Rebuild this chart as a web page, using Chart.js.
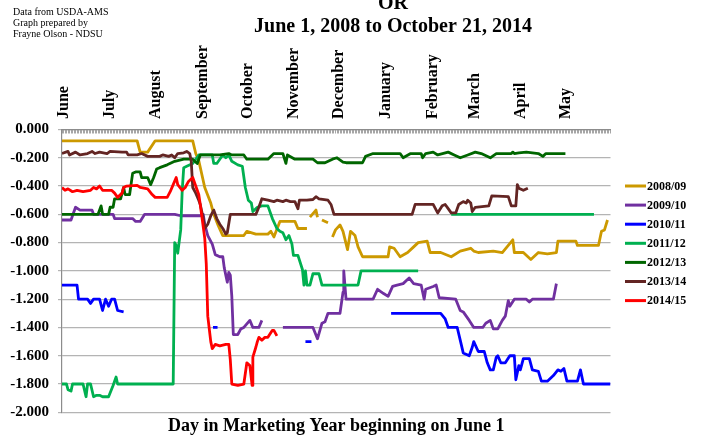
<!DOCTYPE html>
<html>
<head>
<meta charset="utf-8">
<title>Basis by marketing year</title>
<script src="https://cdn.jsdelivr.net/npm/chart.js@4.4.1/dist/chart.umd.min.js"></script>
<style>
  html, body { margin: 0; padding: 0; background: #fff; }
  #wrap { position: relative; width: 701px; height: 439px; }
</style>
</head>
<body>
<div id="wrap"><canvas id="basis-chart"></canvas></div>
<script>
// season labels, in legend order
var seasons = ['2008/09', '2009/10', '2010/11', '2011/12', '2012/13', '2013/14', '2014/15'];

// month names shown on the top axis, and the day of the marketing year each starts on
var monthNames = ['June', 'July', 'August', 'September', 'October', 'November', 'December',
                  'January', 'February', 'March', 'April', 'May'];
var monthStartDays = [1, 31, 62, 93, 123, 154, 184, 215, 246, 274, 305, 335];

// [day, basis] pairs, null = no quote (gap)
var s0809 = [[1,-0.08],[51,-0.08],[53,-0.16],[58,-0.16],[63,-0.08],[88,-0.08],[90,-0.17],[92,-0.22],[96,-0.41],[100,-0.52],[102,-0.60],[105,-0.68],[108,-0.75],[122,-0.75],[124,-0.72],[130,-0.74],[138,-0.74],[140,-0.72],[142,-0.76],[146,-0.65],[156,-0.65],[158,-0.70],[164,-0.70],[165,null],[166,-0.62],[170,-0.57],[171,-0.62],[172,null],[174,-0.64],[178,-0.66],[179,null],[181,-0.76],[183,-0.71],[186,-0.675],[188,-0.72],[191,-0.85],[193,-0.72],[196,-0.75],[198,-0.83],[201,-0.90],[218,-0.90],[219,-0.83],[222,-0.84],[226,-0.90],[231,-0.87],[235,-0.83],[238,-0.80],[244,-0.79],[246,-0.87],[253,-0.87],[260,-0.90],[266,-0.86],[273,-0.84],[275,-0.86],[278,-0.87],[288,-0.86],[294,-0.87],[301,-0.78],[302,-0.87],[308,-0.87],[313,-0.92],[318,-0.87],[324,-0.88],[330,-0.87],[331,-0.79],[343,-0.79],[344,-0.82],[358,-0.82],[360,-0.72],[362,-0.71],[364,-0.64]];
var s0910 = [[1,-0.64],[7,-0.64],[10,-0.55],[13,-0.57],[21,-0.57],[22,-0.60],[35,-0.60],[36,-0.63],[48,-0.63],[50,-0.65],[53,-0.65],[56,-0.60],[76,-0.60],[80,-0.61],[93,-0.61],[95,-0.60],[96,-0.67],[98,-0.75],[101,-0.81],[103,-0.885],[106,-0.90],[108,-0.90],[109,-0.98],[110,-1.03],[111,-1.08],[112,-1.01],[113,-1.03],[114,-1.18],[115,-1.45],[118,-1.45],[120,-1.41],[122,-1.40],[126,-1.35],[128,-1.40],[132,-1.40],[134,-1.35],[140,null],[148,-1.40],[168,-1.40],[171,-1.48],[174,-1.37],[176,-1.36],[178,-1.30],[186,-1.30],[188,-1.15],[188.5,-1.00],[190,-1.20],[208,-1.20],[211,-1.13],[215,-1.16],[218,-1.18],[221,-1.11],[224,-1.10],[228,-1.09],[232,-1.05],[235,-1.09],[240,-1.10],[242,-1.20],[243,-1.13],[248,-1.11],[250,-1.10],[252,-1.19],[263,-1.20],[266,-1.28],[268,-1.29],[272,-1.35],[275,-1.40],[281,-1.40],[283,-1.37],[286,-1.35],[288,-1.41],[291,-1.41],[294,-1.35],[296,-1.32],[298,-1.21],[299,-1.25],[302,-1.20],[310,-1.20],[312,-1.22],[314,-1.20],[328,-1.20],[330,-1.09]];
var s1011 = [[1,-1.10],[11,-1.10],[12,-1.20],[18,-1.20],[20,-1.23],[22,-1.20],[26,-1.20],[28,-1.28],[30,-1.20],[32,-1.25],[34,-1.20],[36,-1.20],[38,-1.28],[42,-1.29],[50,null],[101.5,-1.40],[104.5,-1.40],[110,null],[163,-1.50],[167,-1.50],[190,null],[220,-1.30],[253,-1.30],[256,-1.34],[258,-1.40],[264,-1.40],[266,-1.49],[268,-1.58],[272,-1.60],[274,-1.54],[275,-1.50],[278,-1.57],[282,-1.57],[284,-1.65],[286,-1.70],[288,-1.70],[290,-1.61],[291,-1.60],[293,-1.65],[296,-1.65],[299,-1.60],[302,-1.60],[303,-1.77],[305,-1.67],[306,-1.70],[308,-1.62],[312,-1.62],[314,-1.70],[318,-1.71],[320,-1.78],[324,-1.78],[328,-1.74],[331,-1.70],[333,-1.71],[335,-1.69],[337,-1.78],[344,-1.78],[346,-1.70],[348,-1.80],[366,-1.80]];
var s1112 = [[1,-1.80],[4,-1.80],[5,-1.84],[7,-1.85],[8,-1.80],[15,-1.80],[17,-1.89],[18,-1.80],[20,-1.80],[22,-1.89],[24,-1.88],[26,-1.88],[28,-1.89],[32,-1.89],[35,-1.81],[37,-1.75],[38,-1.80],[75,-1.80],[76,-0.80],[77,-0.82],[78,-0.875],[80,-0.71],[81,-0.43],[82,-0.27],[84,-0.26],[88,-0.24],[92,-0.18],[101,-0.18],[102,-0.24],[104,-0.24],[108,-0.18],[110,-0.20],[112,-0.18],[114,-0.225],[118,-0.25],[121,-0.26],[123,-0.41],[125,-0.50],[127,-0.52],[128,-0.58],[131,-0.55],[134,-0.54],[138,-0.54],[141,-0.63],[144,-0.70],[146,-0.72],[148,-0.73],[150,-0.78],[152,-0.75],[154,-0.81],[155,-0.89],[158,-0.89],[161,-0.99],[162,-1.10],[163,-1.00],[164,-1.10],[166,-1.10],[168,-1.02],[172,-1.02],[174,-1.10],[198,-1.10],[200,-1.00],[238,-1.00],[250,null],[260,-0.60],[355,-0.60]];
var s1213 = [[1,-0.60],[25,-0.60],[27,-0.54],[28,-0.60],[32,-0.60],[33,-0.55],[35,-0.55],[36,-0.49],[40,-0.49],[42,-0.41],[43,-0.46],[46,-0.46],[48,-0.31],[50,-0.30],[53,-0.30],[54,-0.34],[58,-0.34],[60,-0.39],[62,-0.34],[64,-0.28],[66,-0.27],[71,-0.25],[76,-0.225],[82,-0.21],[88,-0.21],[91,-0.24],[93,-0.18],[106,-0.18],[112,-0.17],[114,-0.18],[122,-0.18],[124,-0.21],[138,-0.21],[142,-0.17],[148,-0.17],[150,-0.24],[151,-0.18],[156,-0.21],[168,-0.21],[171,-0.235],[176,-0.235],[181,-0.21],[184,-0.20],[188,-0.23],[190,-0.235],[201,-0.235],[203,-0.19],[208,-0.17],[226,-0.17],[228,-0.20],[233,-0.17],[240,-0.17],[241,-0.20],[243,-0.17],[248,-0.16],[251,-0.18],[258,-0.16],[262,-0.18],[266,-0.20],[271,-0.18],[276,-0.16],[280,-0.17],[286,-0.20],[290,-0.17],[300,-0.17],[301,-0.16],[302,-0.17],[305,-0.165],[310,-0.16],[314,-0.165],[318,-0.17],[321,-0.19],[323,-0.17],[336,-0.17]];
var s1314 = [[1,-0.17],[5,-0.155],[6,-0.18],[10,-0.16],[13,-0.18],[18,-0.17],[21,-0.155],[23,-0.17],[26,-0.16],[31,-0.17],[33,-0.155],[41,-0.16],[44,-0.16],[45,-0.18],[51,-0.18],[54,-0.17],[58,-0.19],[66,-0.19],[68,-0.18],[72,-0.19],[74,-0.18],[76,-0.20],[78,-0.17],[82,-0.165],[84,-0.155],[86,-0.17],[87,-0.225],[88,-0.41],[90,-0.45],[92,-0.50],[93,-0.53],[95,-0.63],[96,-0.70],[98,-0.67],[100,-0.61],[102,-0.57],[104,-0.63],[106,-0.67],[108,-0.70],[110,-0.74],[111,-0.73],[113,-0.60],[130,-0.60],[132,-0.55],[134,-0.49],[138,-0.50],[142,-0.51],[144,-0.50],[148,-0.51],[150,-0.50],[153,-0.51],[156,-0.51],[158,-0.56],[159,-0.50],[164,-0.50],[168,-0.495],[170,-0.475],[172,-0.49],[178,-0.50],[180,-0.53],[182,-0.60],[234,-0.60],[236,-0.53],[248,-0.53],[251,-0.59],[254,-0.54],[256,-0.53],[258,-0.56],[260,-0.59],[263,-0.59],[265,-0.53],[268,-0.51],[270,-0.52],[271,-0.50],[273,-0.52],[274,-0.58],[276,-0.55],[285,-0.54],[287,-0.47],[298,-0.475],[300,-0.54],[303,-0.54],[304,-0.39],[305,-0.415],[308,-0.43],[311,-0.415]];
var s1415 = [[1,-0.41],[3,-0.43],[5,-0.42],[8,-0.44],[11,-0.43],[15,-0.44],[20,-0.43],[22,-0.41],[24,-0.42],[26,-0.40],[28,-0.43],[34,-0.43],[36,-0.45],[38,-0.48],[41,-0.45],[42,-0.41],[44,-0.40],[51,-0.395],[53,-0.41],[58,-0.42],[61,-0.46],[63,-0.48],[71,-0.48],[73,-0.44],[75,-0.39],[77,-0.34],[78,-0.39],[81,-0.43],[83,-0.41],[85,-0.37],[88,-0.34],[90,-0.40],[92,-0.46],[93,-0.53],[94,-0.61],[96,-0.77],[97,-0.95],[98,-1.32],[100,-1.50],[101,-1.55],[103,-1.52],[106,-1.53],[110,-1.52],[112,-1.52],[113,-1.63],[114,-1.80],[118,-1.81],[122,-1.80],[124,-1.65],[126,-1.67],[127.5,-1.81],[128,-1.61],[130,-1.54],[131,-1.50],[132,-1.47],[134,-1.49],[136,-1.47],[138,-1.47],[141,-1.42],[142,-1.42],[144,-1.46]];

var seriesData = [s0809, s0910, s1011, s1112, s1213, s1314, s1415];
var lineColors = ['#CC9900', '#7030A0', '#0000FF', '#00B050', '#006600', '#632523', '#FF0000'];

var noteLines = ['Data from USDA-AMS', 'Graph prepared by', 'Frayne Olson - NDSU'];
var titleLines = ['OR', 'June 1, 2008 to October 21, 2014'];
var xTitle = 'Day in Marketing Year beginning on June 1';

var serif = "'Liberation Serif', 'Times New Roman', serif";

// one tick mark per day along the top axis
var dayTicks = [];
for (var d = 1; d <= 366; d++) dayTicks.push({ value: d });

var datasets = seriesData.map(function(rows, i) {
  return {
    label: seasons[i],
    data: rows.map(function(r) { return { x: r[0], y: r[1] }; }),
    borderColor: lineColors[i],
    backgroundColor: lineColors[i],
    borderWidth: 2.8,
    pointRadius: 0,
    tension: 0,
    spanGaps: false,
    borderJoinStyle: 'round',
    order: seriesData.length - i   // later seasons drawn on top
  };
});

// extra text: source note, title, x-axis title and the legend
var decor = {
  id: 'decor',
  afterDraw: function(chart) {
    var ctx = chart.ctx, area = chart.chartArea;
    ctx.save();
    ctx.fillStyle = '#000';
    ctx.textAlign = 'left';
    ctx.textBaseline = 'alphabetic';
    ctx.font = '10px ' + serif;
    noteLines.forEach(function(t, i) { ctx.fillText(t, 13, 15 + i * 10.8); });

    ctx.textAlign = 'center';
    ctx.font = 'bold 20px ' + serif;
    titleLines.forEach(function(t, i) { ctx.fillText(t, 393, 8.5 + i * 23); });

    ctx.font = 'bold 18px ' + serif;
    ctx.fillText(xTitle, (area.left + area.right) / 2, 431);

    ctx.textAlign = 'left';
    ctx.textBaseline = 'middle';
    ctx.font = 'bold 12px ' + serif;
    chart.data.datasets.forEach(function(ds, i) {
      var y = 186 + i * 19.1;
      ctx.strokeStyle = ds.borderColor;
      ctx.lineWidth = 3;
      ctx.beginPath();
      ctx.moveTo(625, y);
      ctx.lineTo(646, y);
      ctx.stroke();
      ctx.fillText(ds.label, 647, y + 0.5);
    });
    ctx.restore();
  }
};

new Chart(document.getElementById('basis-chart'), {
  type: 'line',
  data: { datasets: datasets },
  options: {
    responsive: true,
    maintainAspectRatio: false,
    animation: false,
    events: [],
    layout: { padding: { left: 0, right: 90.5, top: 0, bottom: 26.7 } },
    plugins: { legend: { display: false }, title: { display: false }, tooltip: { enabled: false } },
    scales: {
      x: {
        type: 'linear',
        position: 'top',
        min: 1,
        max: 366,
        afterBuildTicks: function(scale) { scale.ticks = dayTicks.slice(); },
        afterFit: function(scale) { scale.height = 129.5; },
        ticks: {
          autoSkip: false,
          minRotation: 90,
          maxRotation: 90,
          padding: 14.5,
          labelOffset: 21.5,
          color: '#000',
          font: { family: serif, size: 16, weight: 'bold' },
          callback: function(v) {
            var k = monthStartDays.indexOf(v);
            return k >= 0 ? monthNames[k] : '';
          }
        },
        grid: { drawOnChartArea: false, drawTicks: true, tickLength: -4, color: '#a6a6a6', lineWidth: 1 },
        border: { color: '#8c8c8c', width: 1.2 }
      },
      y: {
        min: -2,
        max: 0,
        afterFit: function(scale) { scale.width = 62; },
        ticks: {
          stepSize: 0.2,
          padding: 9,
          color: '#000',
          font: { family: serif, size: 15, weight: 'bold' },
          callback: function(v) { return (Math.abs(v) < 1e-9 ? 0 : v).toFixed(3); }
        },
        grid: { color: '#b4b4b4', lineWidth: 1.2, drawTicks: true, tickLength: 4 },
        border: { color: '#8c8c8c', width: 1.2 }
      }
    }
  },
  plugins: [decor]
});
</script>
</body>
</html>
